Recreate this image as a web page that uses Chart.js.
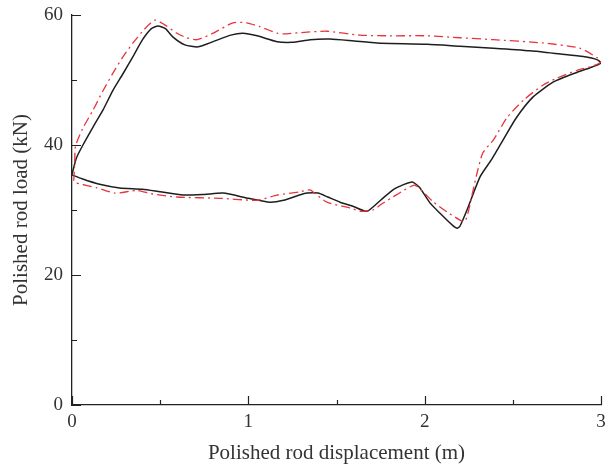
<!DOCTYPE html>
<html><head><meta charset="utf-8">
<script src="https://cdn.jsdelivr.net/npm/chart.js@4.4.0/dist/chart.umd.min.js"></script>
<style>html,body{margin:0;padding:0;background:#fff}#wrap{width:609px;height:468px}</style>
</head><body><div id="wrap"><canvas id="c" width="609" height="468"></canvas></div>
<script>
const xTicks = [0, 1, 2, 3];
const yTicks = [0, 20, 40, 60];
const xMinor = [0.5, 1.5, 2.5];
const yMinor = [10, 30, 50];
const measuredX = [0,0.025,0.062,0.12,0.176,0.23,0.29,0.35,0.40,0.45,0.488,0.53,0.573,0.64,0.715,0.8,0.9,0.97,1.05,1.163,1.25,1.35,1.463,1.6,1.73,2.014,2.2,2.39,2.6,2.77,2.9,2.98,3.0,2.95,2.865,2.73,2.615,2.52,2.445,2.38,2.314,2.24,2.2,2.184,2.16,2.087,2.03,1.97,1.93,1.88,1.82,1.75,1.673,1.6,1.52,1.45,1.395,1.333,1.29,1.2,1.123,1.0,0.857,0.75,0.63,0.50,0.40,0.27,0.15,0.057,0];
const measuredY = [35.5,38,40,42.8,45.4,48.3,51,53.8,56.2,57.9,58.3,57.9,56.6,55.4,55.1,55.9,56.9,57.2,56.8,55.9,55.8,56.2,56.3,56,55.7,55.5,55.2,54.9,54.5,54,53.6,53.1,52.6,52.0,51.2,49.7,47.4,44.2,40.8,37.8,35.1,30,27.5,27.2,27.6,29.5,31.1,33.5,34.3,33.9,33.1,31.5,29.8,30.5,31.2,32,32.6,32.6,32.3,31.5,31.2,31.8,32.6,32.4,32.3,32.8,33.2,33.4,34,34.8,35.4];
const simulatedX = [0.01,0.015,0.02,0.06,0.12,0.175,0.233,0.29,0.346,0.41,0.47,0.52,0.595,0.65,0.71,0.8,0.913,0.99,1.066,1.163,1.197,1.3,1.446,1.633,1.8,2.014,2.2,2.39,2.67,2.88,2.98,3.0,2.95,2.865,2.75,2.67,2.56,2.467,2.39,2.33,2.3,2.275,2.25,2.23,2.21,2.127,2.05,1.946,1.88,1.82,1.76,1.707,1.64,1.577,1.446,1.38,1.35,1.293,1.163,1.05,0.84,0.595,0.45,0.369,0.244,0.142,0.017];
const simulatedY = [34.5,37,39.8,42.5,45.4,48.3,51.1,53.6,55.7,57.8,59.2,58.6,57.2,56.5,56.2,57.2,58.8,58.8,58.2,57.2,57.1,57.3,57.5,56.9,56.8,56.8,56.5,56.2,55.7,54.9,53.4,52.8,52.1,51.5,50.3,49.2,46.9,44.2,40.8,38.8,36,33.1,30,28.3,28.3,29.7,31.2,33.8,33,32,31,30,29.8,30.3,31.2,32.5,33.1,32.8,32.3,31.5,31.8,32,32.5,33,32.6,33.4,34.2];

const toPts = (xs, ys) => xs.map((x, i) => ({x: x, y: ys[i]}));
const FONT = '"Liberation Serif", "DejaVu Serif", serif';

const inwardTicks = {
  id: 'inwardTicks',
  afterDraw(chart) {
    const ctx = chart.ctx, xs = chart.scales.x, ys = chart.scales.y;
    const bottom = ys.getPixelForValue(0), left = xs.getPixelForValue(0);
    ctx.save();
    ctx.strokeStyle = '#222';
    ctx.lineWidth = 1.2;
    ctx.beginPath();
    xTicks.forEach(v => { const p = Math.round(xs.getPixelForValue(v)) + 0.5; ctx.moveTo(p, bottom); ctx.lineTo(p, bottom - 9); });
    xMinor.forEach(v => { const p = Math.round(xs.getPixelForValue(v)) + 0.5; ctx.moveTo(p, bottom); ctx.lineTo(p, bottom - 5); });
    yTicks.forEach(v => { const p = Math.round(ys.getPixelForValue(v)) + 0.5; ctx.moveTo(left, p); ctx.lineTo(left + 9, p); });
    yMinor.forEach(v => { const p = Math.round(ys.getPixelForValue(v)) + 0.5; ctx.moveTo(left, p); ctx.lineTo(left + 5, p); });
    ctx.stroke();
    ctx.restore();
  }
};

const zeroPad = s => { s.paddingLeft = 0; s.paddingRight = 0; s.paddingTop = 0; s.paddingBottom = 0; };

new Chart(document.getElementById('c'), {
  type: 'scatter',
  data: {
    datasets: [
      { label: 'Simulated', data: toPts(simulatedX, simulatedY), showLine: true, borderColor: '#e8343c', borderWidth: 1.3, borderDash: [9, 4, 2, 4], pointRadius: 0, tension: 0.2, fill: false },
      { label: 'Measured', data: toPts(measuredX, measuredY), showLine: true, borderColor: '#1e1e1e', borderWidth: 1.5, pointRadius: 0, tension: 0.2, fill: false }
    ]
  },
  options: {
    responsive: false,
    animation: false,
    devicePixelRatio: 1,
    layout: { padding: { top: 15, right: 8, left: 0, bottom: 0 } },
    plugins: { legend: { display: false }, tooltip: { enabled: false } },
    scales: {
      x: {
        type: 'linear', min: 0, max: 3,
        afterBuildTicks: s => { s.ticks = xTicks.map(v => ({ value: v })); },
        afterFit: s => { s.height = 63; zeroPad(s); },
        grid: { display: false, drawTicks: false },
        border: { display: true, color: '#222', width: 1.3 },
        ticks: { color: '#333', font: { family: FONT, size: 19 }, padding: 6, maxRotation: 0 },
        title: { display: true, text: 'Polished rod displacement (m)', color: '#333', font: { family: FONT, size: 21 }, padding: { top: 4, bottom: 2 } }
      },
      y: {
        type: 'linear', min: 0, max: 60,
        afterBuildTicks: s => { s.ticks = yTicks.map(v => ({ value: v })); },
        afterFit: s => { s.width = 72; zeroPad(s); },
        grid: { display: false, drawTicks: false },
        border: { display: true, color: '#222', width: 1.3 },
        ticks: { color: '#333', font: { family: FONT, size: 19 }, padding: 9 },
        title: { display: true, text: 'Polished rod load (kN)', color: '#333', font: { family: FONT, size: 21 }, padding: { top: 9, bottom: 4 } }
      }
    }
  },
  plugins: [inwardTicks]
});
</script></body></html>
